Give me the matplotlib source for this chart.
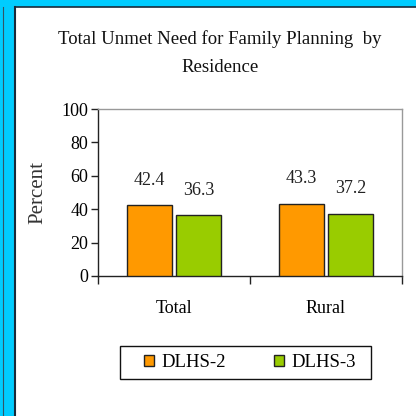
import matplotlib
matplotlib.use("Agg")
import matplotlib.pyplot as plt
from matplotlib.patches import Rectangle
from matplotlib.lines import Line2D
import numpy as np

categories = ["Total", "Rural"]
series_names = ["DLHS-2", "DLHS-3"]
dlhs2 = [42.4, 43.3]
dlhs3 = [36.3, 37.2]
yticks = [0, 20, 40, 60, 80, 100]
title = "Total Unmet Need for Family Planning  by\nResidence"

W = H = 416
fig = plt.figure(figsize=(W / 100, H / 100), dpi=100)
fig.patch.set_facecolor("white")

def fx(x):
    return x / W

def fy(y):
    return 1 - y / H

cyan = "#00CCFF"
# decorative cyan frame
fig.add_artist(Rectangle((0, fy(6.5)), 1, 6.5 / H, transform=fig.transFigure,
                         facecolor=cyan, edgecolor="none", zorder=0))
fig.add_artist(Rectangle((0, 0), fx(15), 1, transform=fig.transFigure,
                         facecolor=cyan, edgecolor="none", zorder=0))
fig.add_artist(Line2D([fx(14.5), fx(14.5)], [0, fy(6.5)], transform=fig.transFigure,
                      color="#1a2a3a", lw=1.5))
fig.add_artist(Line2D([fx(14.5), 1], [fy(6.8), fy(6.8)], transform=fig.transFigure,
                      color="#1a2a3a", lw=1.2))
fig.add_artist(Line2D([fx(3.3), fx(3.3)], [0, fy(7)], transform=fig.transFigure,
                      color="#335566", lw=0.8))

font = "Liberation Serif"
plt.rcParams["font.family"] = [font, "DejaVu Serif"]

ax = fig.add_axes([fx(98), fy(276), fx(402 - 98), (276 - 109) / H])
x = np.arange(len(categories))
w = 0.295
off = 0.163
b1 = ax.bar(x - off, dlhs2, w, color="#FF9900", edgecolor="#222222", linewidth=1.0,
            label=series_names[0], zorder=3)
b2 = ax.bar(x + off, dlhs3, w, color="#99CC00", edgecolor="#222222", linewidth=1.0,
            label=series_names[1], zorder=3)
for bars, vals in ((b1, dlhs2), (b2, dlhs3)):
    for r, v in zip(bars, vals):
        ax.annotate(f"{v:.1f}", (r.get_x() + r.get_width() / 2, v),
                    xytext=(0, 12), textcoords="offset points",
                    ha="center", va="bottom", fontsize=13, color="#222222")

ax.set_xlim(-0.5, 1.5)
ax.set_ylim(0, 100)
ax.set_yticks(yticks)
ax.set_yticklabels([str(t) for t in yticks], fontsize=13)
ax.set_xticks([-0.5, 0.5, 1.5])
ax.set_xticklabels([])
ax.set_xticks(x, minor=True)
ax.set_xticklabels(categories, minor=True, fontsize=13)
ax.tick_params(axis="x", which="minor", length=0, pad=17)
ax.tick_params(axis="x", which="major", length=6, width=1, color="#222222")
ax.tick_params(axis="y", length=5, width=1, color="#222222", pad=2)
ax.set_ylabel("Percent", fontsize=15, labelpad=10, color="#333333")

for s in ("left", "bottom"):
    ax.spines[s].set_color("#222222")
    ax.spines[s].set_linewidth(1.0)
for s in ("top", "right"):
    ax.spines[s].set_color("#999999")
    ax.spines[s].set_linewidth(1.0)

fig.text(fx(220), fy(53), title, ha="center", va="center", fontsize=13.5,
         linespacing=1.8, color="#111111")

# legend box (drawn separately to get wide side padding)
fig.add_artist(Rectangle((fx(120), fy(379)), fx(371 - 120), (379 - 346) / H,
                         transform=fig.transFigure, facecolor="white",
                         edgecolor="#111111", linewidth=1.0, zorder=1))
leg = fig.legend(handles=[b1, b2], labels=series_names, loc="center",
                 bbox_to_anchor=(fx(250), fy(362.5)), bbox_transform=fig.transFigure,
                 ncol=2, fontsize=13.5, frameon=False,
                 handlelength=0.5, handleheight=0.5,
                 handletextpad=0.4, columnspacing=2.6, borderpad=0.0)
leg.set_zorder(2)

fig.savefig("out.png", dpi=100)
